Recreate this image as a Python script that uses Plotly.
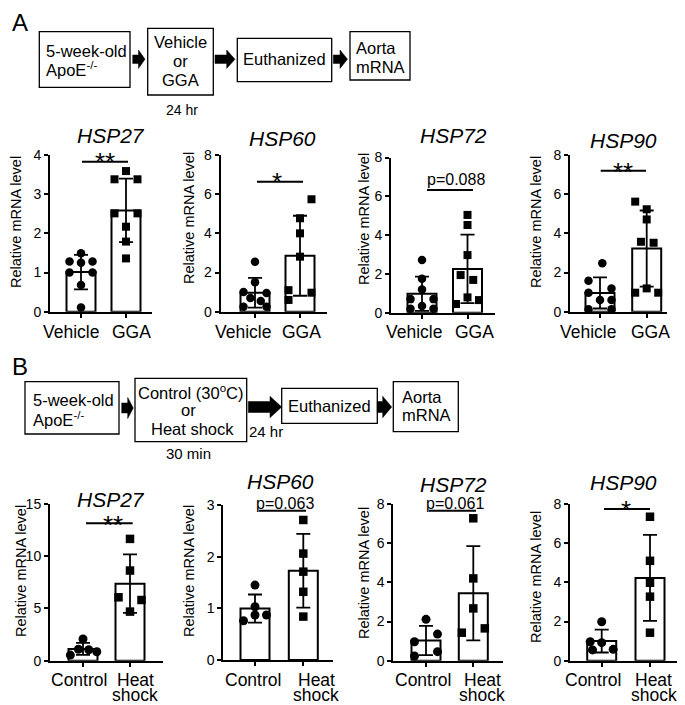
import plotly.graph_objects as go
import numpy as np

# page is 685x705; the html body has an 8px margin, so the figure itself is 8px smaller
PAGE_W, PAGE_H = 685, 705
OFF = 8
W, H = PAGE_W - OFF, PAGE_H - OFF
FONT = "Liberation Sans, Arial, sans-serif"

# ---------------- data ----------------
groups_a = ["Vehicle", "GGA"]
groups_b = ["Control", "Heat<br>shock"]
genes = ["HSP27", "HSP60", "HSP72", "HSP90"]

# Panel A: Vehicle vs GGA (relative mRNA level per mouse)
a_hsp27_vehicle = [1.49, 1.28, 1.25, 1.28, 1.00, 1.00, 0.68, 0.11]
a_hsp27_gga = [3.38, 3.59, 3.38, 2.51, 2.51, 2.17, 1.79, 1.36]
a_hsp60_vehicle = [2.55, 1.50, 1.00, 0.95, 0.70, 0.55, 0.25, 0.25]
a_hsp60_gga = [5.74, 4.77, 4.00, 2.81, 1.10, 0.97, 0.60]
a_hsp72_vehicle = [2.72, 1.75, 1.20, 0.70, 0.70, 0.35, 0.20, 0.20]
a_hsp72_gga = [5.04, 4.52, 2.97, 1.94, 1.69, 0.79, 0.45, 0.65]
a_hsp90_vehicle = [2.47, 1.58, 1.19, 0.97, 0.60, 0.60, 0.12, 0.12]
a_hsp90_gga = [5.62, 5.23, 4.71, 3.57, 3.52, 1.19, 0.97, 0.97]

# Panel B: Control vs Heat shock
b_hsp27_control = [2.08, 1.10, 1.05, 0.86, 0.54]
b_hsp27_heat = [11.66, 8.63, 6.07, 5.81, 4.70]
b_hsp60_control = [1.45, 1.03, 0.76, 0.87, 0.87]
b_hsp60_heat = [2.71, 2.06, 1.71, 1.32, 0.84]
b_hsp72_control = [2.11, 1.36, 0.97, 0.46, 0.24]
b_hsp72_heat = [7.27, 4.20, 2.67, 1.43, 1.65]
b_hsp90_control = [1.99, 0.97, 0.92, 0.58, 0.55]
b_hsp90_heat = [7.35, 5.10, 3.98, 3.27, 1.43]

# horizontal slot of each point inside its bar (beeswarm placement)
a_hsp27_vehicle_slot = [0, -1, 0, 1, -1, 1, 0, 0]
a_hsp27_gga_slot = [-1, 0, 1, -1, 1, 0, 0, 0]
a_hsp60_vehicle_slot = [0, 0, -1, 1, -0.4, 0.5, -1, 1]
a_hsp60_gga_slot = [1, 0, 0, 0, -1, 1, -1]
a_hsp72_vehicle_slot = [0, 0, 0, -1, 1, 0, -1, 1]
a_hsp72_gga_slot = [0, 0, 0, -0.6, 0.5, 0, -1, 1]
a_hsp90_vehicle_slot = [0.2, -1, 1, -1, 0, 1, -1, 1]
a_hsp90_gga_slot = [-1, 0, 0, -0.5, 0.6, 0, -1, 1]
b_hsp27_control_slot = [0, -0.4, 0.5, 1.2, -1.1]
b_hsp27_heat_slot = [0, 0, -1, 1, 0]
b_hsp60_control_slot = [0, 0, -1, 0, 1]
b_hsp60_heat_slot = [0, 0, 0, 0, 0]
b_hsp72_control_slot = [0, 1, -1, 1, -1]
b_hsp72_heat_slot = [0, 0, 0, -1, 1]
b_hsp90_control_slot = [0, -1, 0, 1, -0.8]
b_hsp90_heat_slot = [0, 0, 0, 0, 0]

a_yticks = [[0, 1, 2, 3, 4], [0, 2, 4, 6, 8], [0, 2, 4, 6, 8], [0, 2, 4, 6, 8]]
b_yticks = [[0, 5, 10, 15], [0, 1, 2, 3], [0, 2, 4, 6, 8], [0, 2, 4, 6, 8]]

sig_a = ["**", "*", "p=0.088", "**"]
sig_b = ["**", "p=0.063", "p=0.061", "*"]

panel_data = [
    (groups_a, a_hsp27_vehicle, a_hsp27_gga, a_hsp27_vehicle_slot, a_hsp27_gga_slot, a_yticks[0], sig_a[0]),
    (groups_a, a_hsp60_vehicle, a_hsp60_gga, a_hsp60_vehicle_slot, a_hsp60_gga_slot, a_yticks[1], sig_a[1]),
    (groups_a, a_hsp72_vehicle, a_hsp72_gga, a_hsp72_vehicle_slot, a_hsp72_gga_slot, a_yticks[2], sig_a[2]),
    (groups_a, a_hsp90_vehicle, a_hsp90_gga, a_hsp90_vehicle_slot, a_hsp90_gga_slot, a_yticks[3], sig_a[3]),
    (groups_b, b_hsp27_control, b_hsp27_heat, b_hsp27_control_slot, b_hsp27_heat_slot, b_yticks[0], sig_b[0]),
    (groups_b, b_hsp60_control, b_hsp60_heat, b_hsp60_control_slot, b_hsp60_heat_slot, b_yticks[1], sig_b[1]),
    (groups_b, b_hsp72_control, b_hsp72_heat, b_hsp72_control_slot, b_hsp72_heat_slot, b_yticks[2], sig_b[2]),
    (groups_b, b_hsp90_control, b_hsp90_heat, b_hsp90_control_slot, b_hsp90_heat_slot, b_yticks[3], sig_b[3]),
]

# ---------------- layout geometry (page pixels) ----------------
# lx: centres of the two category labels, ly: label line centres
panel_geom = [
    dict(xl=50, xr=152, yt=155, yb=311.7, c0=81, c1=126, tt=(111, 135), yl=(16, 222), sl=(82, 128, 161.7), st=(105, 162), ms=8.5,
         lx=(71, 131), ly=(331.5,)),
    dict(xl=220.7, xr=326.7, yt=155, yb=311.7, c0=255, c1=300, tt=(282, 138), yl=(189, 218), sl=(257, 303, 181.7), st=(277, 182), ms=8.5,
         lx=(242.5, 301.5), ly=(331.5,)),
    dict(xl=391, xr=495, yt=157.5, yb=312.7, c0=422, c1=467.5, tt=(453, 136), yl=(364, 219), sl=(427, 473, 190), st=(456, 179), ms=8.5,
         lx=(414, 475), ly=(332,)),
    dict(xl=570, xr=666.7, yt=155, yb=311.7, c0=600, c1=646.7, tt=(623, 140), yl=(536, 222), sl=(600.7, 646, 170.7), st=(623, 171.5), ms=8.5,
         lx=(588, 650), ly=(332,)),
    dict(xl=50, xr=163, yt=504, yb=660.7, c0=83, c1=130, tt=(111, 499), yl=(21, 571), sl=(86, 132.7, 523.3), st=(113, 524.5), ms=9,
         lx=(79, 135), ly=(679.5, 694.5)),
    dict(xl=223.3, xr=333, yt=505, yb=660, c0=255, c1=303.3, tt=(280, 481), yl=(189, 571), sl=(259, 306, 510.7), st=(285, 503), ms=9,
         lx=(253, 316), ly=(679.5, 694.5)),
    dict(xl=393.3, xr=503, yt=504, yb=660.7, c0=426, c1=473.3, tt=(453, 484), yl=(364, 573), sl=(429, 476, 510.7), st=(455, 503), ms=9,
         lx=(422.5, 482.5), ly=(679.5, 694.5)),
    dict(xl=570, xr=676.7, yt=504, yb=660.7, c0=601.7, c1=650, tt=(623, 482), yl=(536, 577), sl=(604, 650, 509), st=(626, 509.5), ms=9,
         lx=(593, 653.5), ly=(679.5, 694.5)),
]


def fx(px):
    return (px - OFF) / W


def fy(py):
    return 1 - (py - OFF) / H


fig = go.Figure()
shapes = []
annotations = []
layout_axes = {}


def label(text, x, y, size=16.5, anchor="center"):
    annotations.append(dict(text=text, x=fx(x), y=fy(y), xref="paper", yref="paper", showarrow=False,
                            xanchor=anchor, yanchor="middle", font=dict(size=size, color="black", family=FONT)))


for k, (pd_, g) in enumerate(zip(panel_data, panel_geom), start=1):
    groups, v0, v1, s0, s1, yticks, sig = pd_
    sp = g["c1"] - g["c0"]
    xr0 = (g["xl"] - g["c0"]) / sp
    xr1 = (g["xr"] - g["c0"]) / sp
    bw = 29.0 / sp
    jit = 11.5 / sp
    xa = "x" if k == 1 else f"x{k}"
    ya = "y" if k == 1 else f"y{k}"
    means = [float(np.mean(v0)), float(np.mean(v1))]
    sds = [float(np.std(v0, ddof=1)), float(np.std(v1, ddof=1))]
    fig.add_trace(go.Bar(
        x=[0, 1], y=means, width=bw, xaxis=xa, yaxis=ya,
        marker=dict(color="white", line=dict(color="black", width=2)),
        error_y=dict(type="data", array=sds, color="black", thickness=1.8, width=7),
        showlegend=False, hoverinfo="skip"))
    for gi, (vals, slots, sym) in enumerate([(v0, s0, "circle"), (v1, s1, "square")]):
        fig.add_trace(go.Scatter(
            x=[gi + s * jit for s in slots], y=vals, mode="markers", xaxis=xa, yaxis=ya,
            marker=dict(symbol=sym, color="black", size=g["ms"] if sym == "circle" else g["ms"] - 0.5),
            cliponaxis=False, showlegend=False, hoverinfo="skip"))
    ymax = yticks[-1]
    layout_axes["xaxis" if k == 1 else f"xaxis{k}"] = dict(
        domain=[fx(g["xl"]), fx(g["xr"])], range=[xr0, xr1], anchor=ya,
        tickvals=[0, 1], showticklabels=False, automargin=False,
        showline=True, linecolor="black", linewidth=2,
        ticks="outside", ticklen=4, tickwidth=1.5, tickcolor="black",
        showgrid=False, zeroline=False, fixedrange=True)
    layout_axes["yaxis" if k == 1 else f"yaxis{k}"] = dict(
        domain=[fy(g["yb"]), fy(g["yt"])], range=[0, ymax], anchor=xa, automargin=False,
        tickvals=yticks, showline=True, linecolor="black", linewidth=2,
        ticks="outside", ticklen=4, tickwidth=1.5, tickcolor="black",
        tickfont=dict(size=14, color="black", family=FONT),
        showgrid=False, zeroline=False, fixedrange=True)
    # category labels (split on line breaks)
    for gi, name in enumerate(groups):
        for li, line in enumerate(name.split("<br>")):
            label(line, g["lx"][gi], g["ly"][li], size=17.5)
    annotations.append(dict(text=f"<i>{genes[(k - 1) % 4]}</i>", x=fx(g["tt"][0]), y=fy(g["tt"][1]),
                            xref="paper", yref="paper", showarrow=False, xanchor="center", yanchor="middle",
                            font=dict(size=21, color="black", family=FONT)))
    annotations.append(dict(text="Relative mRNA level", x=fx(g["yl"][0]), y=fy(g["yl"][1]),
                            xref="paper", yref="paper", showarrow=False, textangle=-90,
                            xanchor="center", yanchor="middle",
                            font=dict(size=14.5, color="black", family=FONT)))
    x0, x1, yl = g["sl"]
    shapes.append(dict(type="line", xref="paper", yref="paper", x0=fx(x0), x1=fx(x1), y0=fy(yl), y1=fy(yl),
                       line=dict(color="black", width=2)))
    star = sig.startswith("*")
    annotations.append(dict(text=sig, x=fx(g["st"][0]), y=fy(g["st"][1]), xref="paper", yref="paper",
                            showarrow=False, xanchor="center", yanchor="middle",
                            font=dict(size=26 if star else 16, color="black", family=FONT)))


# ---------------- flow charts ----------------
def box(x0, x1, y0, y1):
    shapes.append(dict(type="rect", xref="paper", yref="paper", x0=fx(x0), x1=fx(x1), y0=fy(y1), y1=fy(y0),
                       line=dict(color="black", width=1.3), fillcolor="white"))


def arrow(x0, xh, x1, yc, sh, hh):
    pts = [(x0, yc - sh), (xh, yc - sh), (xh, yc - hh), (x1, yc), (xh, yc + hh), (xh, yc + sh), (x0, yc + sh)]
    path = "M " + " L ".join(f"{fx(a):.5f},{fy(b):.5f}" for a, b in pts) + " Z"
    shapes.append(dict(type="path", xref="paper", yref="paper", path=path,
                       fillcolor="black", line=dict(color="black", width=0.5)))


# A
label("A", 10, 23, size=24, anchor="left")
box(39.3, 130, 31.7, 87.3)
label("5-week-old", 44, 51, anchor="left")
label("ApoE<sup>-/-</sup>", 44, 69, anchor="left")
arrow(132.7, 138.5, 145, 59.2, 4.2, 9.2)
box(147.7, 213.3, 28.3, 95)
label("Vehicle", 180.5, 42)
label("or", 180.5, 61)
label("GGA", 180.5, 80)
label("24 hr", 181.5, 110, size=14)
arrow(215, 226.7, 235, 59.2, 4.2, 9.2)
box(237.3, 331.7, 38.3, 81.7)
label("Euthanized", 284.5, 59.5)
arrow(333.3, 340, 347.5, 59.2, 4.2, 9.2)
box(350, 410, 31.7, 80)
label("Aorta", 354, 48, anchor="left")
label("mRNA", 354, 67, anchor="left")

# B
label("B", 10, 367, size=24, anchor="left")
box(25, 119, 381.7, 434)
label("5-week-old", 30.5, 400, anchor="left")
label("ApoE<sup>-/-</sup>", 30.5, 419, anchor="left")
arrow(121.7, 127.7, 133.3, 408, 5, 10.5)
box(135, 246.7, 378.3, 441.7)
label("Control (30<sup>o</sup>C)", 191, 391.5)
label("or", 188, 410)
label("Heat shock", 192, 428.5)
label("30 min", 188, 453, size=15)
arrow(248.3, 270, 281.7, 407, 5.5, 10.7)
label("24 hr", 265.5, 431.5, size=15)
box(281.7, 377.3, 388.3, 423.3)
label("Euthanized", 329.5, 405.8)
arrow(377.3, 382.7, 391.7, 407, 5.5, 10.7)
box(393.3, 458.3, 381.7, 431.7)
label("Aorta", 399.5, 397, anchor="left")
label("mRNA", 399.5, 415, anchor="left")

fig.update_layout(
    width=W, height=H, margin=dict(l=0, r=0, t=0, b=0, autoexpand=False),
    paper_bgcolor="white", plot_bgcolor="white",
    font=dict(family=FONT, color="black"),
    showlegend=False, barmode="overlay",
    shapes=shapes, annotations=annotations, **layout_axes)

fig.write_html("out.html")
